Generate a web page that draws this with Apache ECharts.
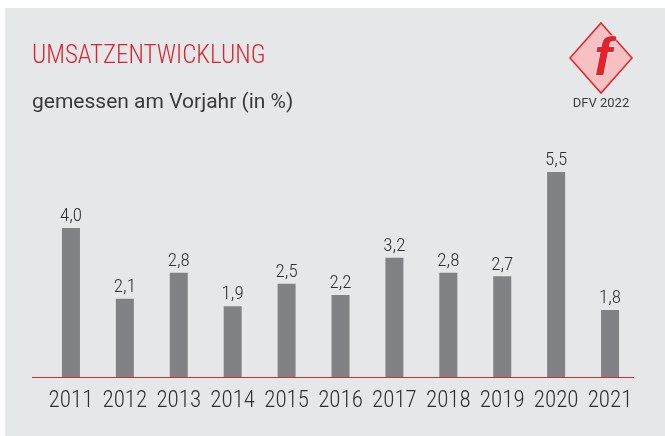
<!DOCTYPE html>
<html>
<head>
<meta charset="utf-8">
<script src="https://cdn.jsdelivr.net/npm/echarts@6/dist/echarts.min.js"></script>
<style>
  html, body { margin: 0; padding: 0; background: #fff; }
  #chart { width: 665px; height: 436px; }
</style>
</head>
<body>
<div id="chart"></div>
<script>
// Daten
const years = ['2011', '2012', '2013', '2014', '2015', '2016', '2017', '2018', '2019', '2020', '2021'];
const growth = [4.0, 2.1, 2.8, 1.9, 2.5, 2.2, 3.2, 2.8, 2.7, 5.5, 1.8];

const cond = '"Roboto Condensed", "DejaVu Sans Condensed", sans-serif';
const chart = echarts.init(document.getElementById('chart'), null, { renderer: 'canvas' });

chart.setOption({
  backgroundColor: '#ffffff',
  animation: false,
  grid: { left: 44, right: 28, top: 172, bottom: 59 },
  xAxis: {
    type: 'category',
    data: years,
    axisLine: { show: false },
    axisTick: { show: false },
    axisLabel: { interval: 0, color: '#2f3033', fontFamily: cond, fontWeight: 300, fontSize: 23, margin: 13 }
  },
  yAxis: {
    type: 'value',
    min: 0,
    max: 5.5,
    show: false,
    splitLine: { show: false }
  },
  series: [{
    type: 'bar',
    data: growth,
    barWidth: 18,
    itemStyle: { color: '#818286' },
    label: {
      show: true,
      position: 'top',
      distance: 2,
      color: '#2f3033',
      fontFamily: cond,
      fontWeight: 300,
      fontSize: 19,
      formatter: p => p.value.toFixed(1).replace('.', ',')
    },
    z: 3
  }],
  graphic: [
    // grauer Hintergrund
    { type: 'rect', shape: { x: 5, y: 8, width: 660, height: 428 }, style: { fill: '#e6e7e9' }, z: -10 },
    // rote Grundlinie
    { type: 'line', shape: { x1: 32, y1: 377.5, x2: 634, y2: 377.5 }, style: { stroke: '#d42a35', lineWidth: 1.2 }, z: 10 },
    // Titel
    { type: 'text', x: 32, y: 57, style: { text: 'UMSATZENTWICKLUNG', fill: '#d8262f', font: '300 25px ' + cond, verticalAlign: 'middle' } },
    { type: 'text', x: 32, y: 103, style: { text: 'gemessen am Vorjahr (in %)', fill: '#3a3a3c', font: '21px Roboto, sans-serif', verticalAlign: 'middle' } },
    // Logo
    { type: 'polygon', shape: { points: [[601, 23], [632, 58], [601, 93], [570, 58]] },
      style: { fill: '#f7c0c3', stroke: '#e3222b', lineWidth: 1.5 } },
    { type: 'text', x: 603, y: 60, style: { text: 'f', fill: '#e3222b', stroke: '#ffffff', lineWidth: 1, font: 'italic bold 54px "Liberation Sans", sans-serif', align: 'center', verticalAlign: 'middle' } },
    { type: 'text', x: 601, y: 104, style: { text: 'DFV 2022', fill: '#3f3f42', font: '13px Roboto, sans-serif', align: 'center', verticalAlign: 'middle' } }
  ]
});
</script>
</body>
</html>
